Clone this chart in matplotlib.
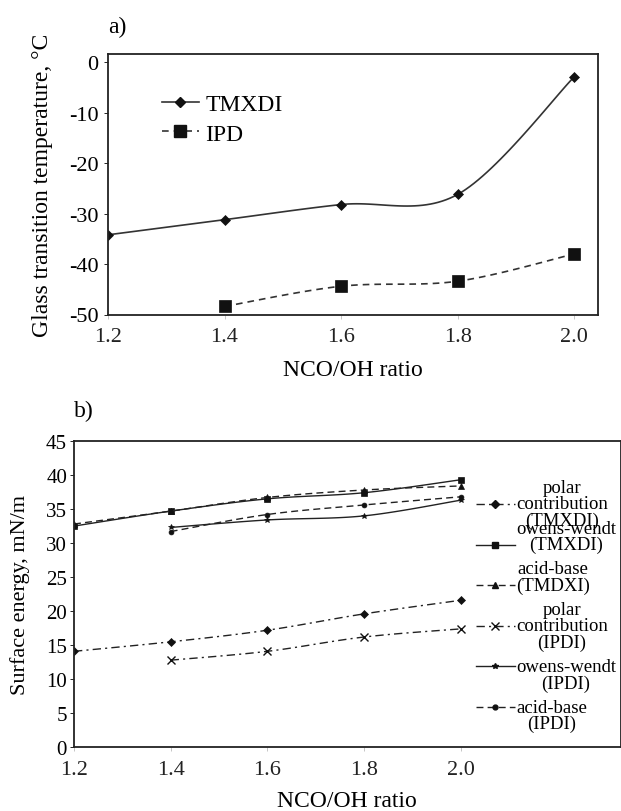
import numpy as np
import matplotlib
matplotlib.use("Agg")
import matplotlib.pyplot as plt
from matplotlib.lines import Line2D

plt.rcParams['font.family'] = ['Liberation Serif', 'DejaVu Serif']
plt.rcParams['axes.unicode_minus'] = False

# a) glass transition temperature
ratio_a = [1.2, 1.4, 1.6, 1.8, 2.0]
tg_tmxdi = [-34.2, -31.2, -28.2, -26.2, -2.9]
ratio_ipd = [1.4, 1.6, 1.8, 2.0]
tg_ipd = [-48.4, -44.4, -43.4, -38.0]

# b) surface energy
ratio_b = [1.2, 1.4, 1.6, 1.8, 2.0]
ratio_b2 = [1.4, 1.6, 1.8, 2.0]
polar_tmxdi = [14.1, 15.5, 17.2, 19.6, 21.6]
ow_tmxdi = [32.5, 34.7, 36.5, 37.4, 39.3]
ab_tmxdi = [32.8, 34.7, 36.7, 37.8, 38.4]
polar_ipdi = [12.8, 14.1, 16.2, 17.4]
ow_ipdi = [32.3, 33.4, 34.0, 36.3]
ab_ipdi = [31.7, 34.2, 35.6, 36.8]


def smooth(x, y, n=30):
    # catmull-rom style smoothing (like excel smoothed lines)
    x = np.asarray(x, float)
    y = np.asarray(y, float)
    xs, ys = [], []
    for i in range(len(x) - 1):
        i0 = max(i - 1, 0)
        i3 = min(i + 2, len(x) - 1)
        t = np.linspace(0, 1, n, endpoint=False)
        for arr, out in ((x, xs), (y, ys)):
            p0, p1, p2, p3 = arr[i0], arr[i], arr[i + 1], arr[i3]
            c1 = p1 + (p2 - p0) / 6
            c2 = p2 - (p3 - p1) / 6
            out.extend((1 - t) ** 3 * p1 + 3 * (1 - t) ** 2 * t * c1
                       + 3 * (1 - t) * t ** 2 * c2 + t ** 3 * p2)
    xs.append(x[-1])
    ys.append(y[-1])
    return np.array(xs), np.array(ys)


def draw(ax, x, y, ls, marker, ms, color='#222222', lw=1.0):
    sx, sy = smooth(x, y)
    ax.plot(sx, sy, color=color, ls=ls, lw=lw)
    ax.plot(x, y, ls='none', marker=marker, ms=ms, color='#111111',
            mew=1.0 if marker == 'x' else 0.5)
    return Line2D([], [], color=color, ls=ls, lw=lw, marker=marker, ms=ms,
                  mfc='#111111', mec='#111111')


fig = plt.figure(figsize=(6.21, 8.12), dpi=100)

# ---- panel a ----
ax1 = fig.add_axes([108 / 621, 1 - 315.5 / 812, 490 / 621, 260.5 / 812])
h1 = draw(ax1, ratio_a, tg_tmxdi, '-', 'D', 5.5, color='#333333', lw=1.2)
h2 = draw(ax1, ratio_ipd, tg_ipd, (0, (4, 3)), 's', 8, color='#333333', lw=1.2)
ax1.set_xlim(1.2, 2.041)
ax1.set_ylim(-50, 1.65)
ax1.set_xticks([1.2, 1.4, 1.6, 1.8, 2.0])
ax1.set_xticklabels(['1.2', '1.4', '1.6', '1.8', '2.0'])
ax1.set_yticks([0, -10, -20, -30, -40, -50])
ax1.tick_params(labelsize=16, direction='out', length=3, width=0.6, pad=4)
ax1.tick_params(axis='x', colors='#bbbbbb', labelcolor='#222222', pad=6)
ax1.set_xlabel('NCO/OH ratio', fontsize=17, labelpad=9)
ax1.set_ylabel('Glass transition temperature, °C', fontsize=17)
ax1.yaxis.set_label_coords(-0.112, 0.5)
for s in ax1.spines.values():
    s.set_linewidth(1.3)
    s.set_color('#222222')
ax1.text(0.0, 1.105, 'a)', transform=ax1.transAxes, fontsize=17,
         ha='left', va='center')
ax1.legend([h1, h2], ['TMXDI', 'IPD'], loc='upper left',
           bbox_to_anchor=(0.09, 0.885), frameon=False, fontsize=17,
           handlelength=1.6, handletextpad=0.25, labelspacing=0.35,
           borderaxespad=0)

# ---- panel b ----
ax2 = fig.add_axes([74 / 621, 1 - 748.3 / 812, 546.5 / 621, 306.3 / 812])
dashdot = (0, (6, 3, 1.5, 3))
k1 = draw(ax2, ratio_b, polar_tmxdi, dashdot, 'D', 4)
k2 = draw(ax2, ratio_b, ow_tmxdi, '-', 's', 4)
k3 = draw(ax2, ratio_b, ab_tmxdi, (0, (5, 3)), '^', 4)
k4 = draw(ax2, ratio_b2, polar_ipdi, dashdot, 'x', 6)
k5 = draw(ax2, ratio_b2, ow_ipdi, '-', '*', 4)
k6 = draw(ax2, ratio_b2, ab_ipdi, (0, (5, 3)), 'o', 3.5)
ax2.set_xlim(1.2, 2.331)
ax2.set_ylim(0, 45)
ax2.set_xticks([1.2, 1.4, 1.6, 1.8, 2.0])
ax2.set_xticklabels(['1.2', '1.4', '1.6', '1.8', '2.0'])
ax2.set_yticks(range(0, 46, 5))
ax2.tick_params(axis='y', labelsize=15, direction='out', length=3, width=0.6, pad=2)
ax2.tick_params(axis='x', labelsize=16, direction='out', length=3, width=0.6,
                pad=6, colors='#bbbbbb', labelcolor='#222222')
ax2.set_xlabel('NCO/OH ratio', fontsize=17, labelpad=8)
ax2.set_ylabel('Surface energy, mN/m', fontsize=16)
ax2.yaxis.set_label_coords(-0.08, 0.5)
for s in ax2.spines.values():
    s.set_linewidth(1.3)
    s.set_color('#222222')
ax2.text(0.0, 1.1, 'b)', transform=ax2.transAxes, fontsize=17,
         ha='left', va='center')

labels_b = ['polar\ncontribution\n(TMXDI)',
            'owens-wendt\n(TMXDI)\n ',
            'acid-base\n(TMDXI)\n ',
            'polar\ncontribution\n(IPDI)',
            ' \nowens-wendt\n(IPDI)',
            ' \nacid-base\n(IPDI)']
leg = ax2.legend([k1, k2, k3, k4, k5, k6], labels_b, loc='upper left',
                 bbox_to_anchor=(0.728, 0.888), frameon=False, fontsize=13.5,
                 handlelength=2.1, handletextpad=0.05, labelspacing=-0.5,
                 borderaxespad=0, borderpad=0.2)
for t in leg.get_texts():
    t.set_multialignment('center')
    t.set_linespacing(0.95)

fig.savefig('out.png', dpi=100)
